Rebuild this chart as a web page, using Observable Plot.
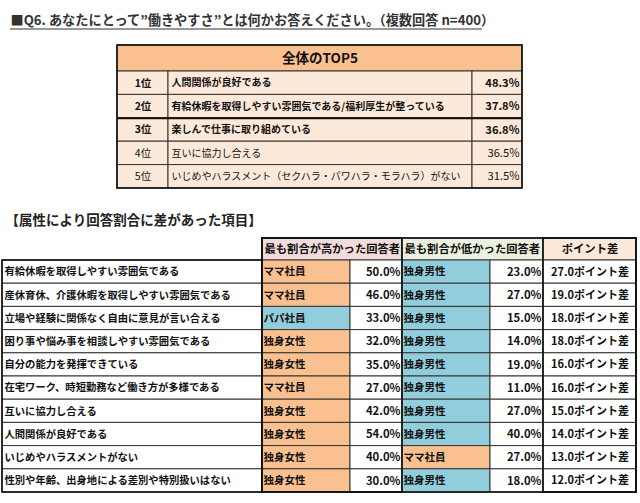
<!DOCTYPE html>
<html><head><meta charset="utf-8">
<script src="https://cdn.jsdelivr.net/npm/d3@7"></script>
<script src="https://cdn.jsdelivr.net/npm/@observablehq/plot@0.6"></script>
<style>
body{margin:0;background:#fff;}
#chart svg{display:block;}
</style>
</head><body><div id="chart"></div>
<script>
// ---------- data ----------
const title = "■Q6. あなたにとって”働きやすさ”とは何かお答えください。（複数回答 n=400）";
const topTitle = "全体のTOP5";
const topRanks = ["1位","2位","3位","4位","5位"];
const topItems = ["人間関係が良好である","有給休暇を取得しやすい雰囲気である/福利厚生が整っている","楽しんで仕事に取り組めている","互いに協力し合える","いじめやハラスメント（セクハラ・パワハラ・モラハラ）がない"];
const topValues = [48.3,37.8,36.8,36.5,31.5];

const sectionTitle = "【属性により回答割合に差があった項目】";
const headers = ["最も割合が高かった回答者","最も割合が低かった回答者","ポイント差"];
const items = ["有給休暇を取得しやすい雰囲気である","産休育休、介護休暇を取得しやすい雰囲気である","立場や経験に関係なく自由に意見が言い合える","困り事や悩み事を相談しやすい雰囲気である","自分の能力を発揮できている","在宅ワーク、時短勤務など働き方が多様である","互いに協力し合える","人間関係が良好である","いじめやハラスメントがない","性別や年齢、出身地による差別や特別扱いはない"];
const highGroups = ["ママ社員","ママ社員","パパ社員","独身女性","独身女性","ママ社員","独身女性","独身女性","独身女性","独身女性"];
const highValues = [50.0,46.0,33.0,32.0,35.0,27.0,42.0,54.0,40.0,30.0];
const lowGroups = ["独身男性","独身男性","独身男性","独身男性","独身男性","独身男性","独身男性","独身男性","ママ社員","独身男性"];
const lowValues = [23.0,27.0,15.0,14.0,19.0,11.0,27.0,40.0,27.0,18.0];
const pointDiffs = [27.0,19.0,18.0,18.0,16.0,16.0,15.0,14.0,13.0,12.0];

const groupDomain = ["ママ社員","独身女性","パパ社員","独身男性"];
const groupColors = ["#fac090","#fac090","#92cddc","#92cddc"];

// ---------- layout ----------
const T = {x0:117, x1:168, x2:472, x3:522, y0:45, yh:71, rh:23.4};
const B = {xa:2, xb:262, xc:350, xd:402, xe:490, xf:543, xg:636, y0:238, yh:260, rh:23.2};

const cells = [];
const texts = [];
const col = d3.scaleOrdinal(groupDomain, groupColors);

// top table
cells.push({x1:T.x0,x2:T.x3,y1:T.y0,y2:T.yh,fill:"#fac090"});
texts.push({x:(T.x0+T.x3)/2,y:(T.y0+T.yh)/2,text:topTitle,a:"middle",w:"bold",s:13.5});
topRanks.forEach((r,i)=>{
  const y1=T.yh+i*T.rh, y2=y1+T.rh, ym=(y1+y2)/2, bold=i<3?"bold":"normal";
  cells.push({x1:T.x0,x2:T.x1,y1,y2,fill:"#fde9d9"});
  cells.push({x1:T.x1,x2:T.x2,y1,y2,fill:"#fde9d9"});
  cells.push({x1:T.x2,x2:T.x3,y1,y2,fill:"#fde9d9"});
  texts.push({x:(T.x0+T.x1)/2,y:ym,text:r,a:"middle",w:bold,s:10.5});
  texts.push({x:T.x1+3,y:ym,text:topItems[i],a:"start",w:bold,s:10});
  texts.push({x:T.x3-3,y:ym,text:topValues[i].toFixed(1)+"%",a:"end",w:bold,s:11.2});
});

// bottom table header
[[B.xb,B.xd,"#f2dcdb"],[B.xd,B.xf,"#ebf1de"],[B.xf,B.xg,"#fde9d9"]].forEach(([a,b,f],j)=>{
  cells.push({x1:a,x2:b,y1:B.y0,y2:B.yh,fill:f});
  if(j<2) texts.push({x:a+2,y:(B.y0+B.yh)/2,text:headers[j],a:"start",w:"bold",s:11.3});
  else texts.push({x:(a+b)/2,y:(B.y0+B.yh)/2,text:headers[j],a:"middle",w:"bold",s:11.3});
});
items.forEach((it,i)=>{
  const y1=B.yh+i*B.rh, y2=y1+B.rh, ym=(y1+y2)/2;
  cells.push({x1:B.xa,x2:B.xb,y1,y2,fill:"#ffffff"});
  cells.push({x1:B.xb,x2:B.xc,y1,y2,fill:col(highGroups[i])});
  cells.push({x1:B.xc,x2:B.xd,y1,y2,fill:"#ffffff"});
  cells.push({x1:B.xd,x2:B.xe,y1,y2,fill:col(lowGroups[i])});
  cells.push({x1:B.xe,x2:B.xf,y1,y2,fill:"#ffffff"});
  cells.push({x1:B.xf,x2:B.xg,y1,y2,fill:"#ffffff"});
  texts.push({x:B.xa+2,y:ym,text:it,a:"start",w:"bold",s:10.3});
  texts.push({x:B.xb+1,y:ym,text:highGroups[i],a:"start",w:"bold",s:10.5});
  texts.push({x:B.xd-2,y:ym,text:highValues[i].toFixed(1)+"%",a:"end",w:"bold",s:11.3});
  texts.push({x:B.xd+1,y:ym,text:lowGroups[i],a:"start",w:"bold",s:10.5});
  texts.push({x:B.xf-2,y:ym,text:lowValues[i].toFixed(1)+"%",a:"end",w:"bold",s:11.3});
  texts.push({x:(B.xf+B.xg)/2,y:ym,text:pointDiffs[i].toFixed(1)+"ポイント差",a:"middle",w:"bold",s:11});
});

// thick borders
const frames = [
  {x1:T.x0,x2:T.x3,y1:T.y0,y2:T.yh+5*T.rh},
  {x1:B.xb,x2:B.xg,y1:B.y0,y2:B.yh+10*B.rh},
  {x1:B.xb,x2:B.xd,y1:B.y0,y2:B.yh+10*B.rh},
  {x1:B.xf,x2:B.xg,y1:B.y0,y2:B.yh+10*B.rh},
  {x1:B.xa,x2:B.xb,y1:B.yh,y2:B.yh+10*B.rh}
];

const textMark = (filter) => {
  const sel = texts.filter(filter);
  const groups = d3.groups(sel, d=>d.a+"|"+d.w);
  return groups.map(([k,arr])=>Plot.text(arr,{x:"x",y:"y",text:"text",fontSize:"s",
    textAnchor:arr[0].a,fontWeight:arr[0].w,fill:"#111"}));
};

const plot = Plot.plot({
  width:640, height:503, margin:0,
  x:{type:"linear",domain:[0,640],range:[0,640],axis:null},
  y:{type:"linear",domain:[0,503],range:[0,503],axis:null},
  style:{fontFamily:"'Noto Sans CJK JP', sans-serif", background:"#fff"},
  marks:[
    Plot.rect(cells,{x1:"x1",x2:"x2",y1:"y1",y2:"y2",fill:"fill",stroke:"#333",strokeWidth:1}),
    Plot.rect(frames,{x1:"x1",x2:"x2",y1:"y1",y2:"y2",fill:"none",stroke:"#111",strokeWidth:1.6}),
    Plot.ruleY([T.yh+2*T.rh],{x1:T.x0,x2:T.x3,stroke:"#111",strokeWidth:2}),
    Plot.text([title],{x:10,y:20,text:d=>d,textAnchor:"start",fontWeight:"bold",fontSize:13.2,fill:"#333"}),
    Plot.ruleY([28.5],{x1:10,x2:482,stroke:"#777",strokeWidth:1.5}),
    Plot.text([sectionTitle],{x:5,y:220,text:d=>d,textAnchor:"start",fontWeight:"bold",fontSize:13.5,fill:"#222"}),
    ...textMark(()=>true)
  ]
});
document.getElementById("chart").appendChild(plot);
</script>
</body></html>
